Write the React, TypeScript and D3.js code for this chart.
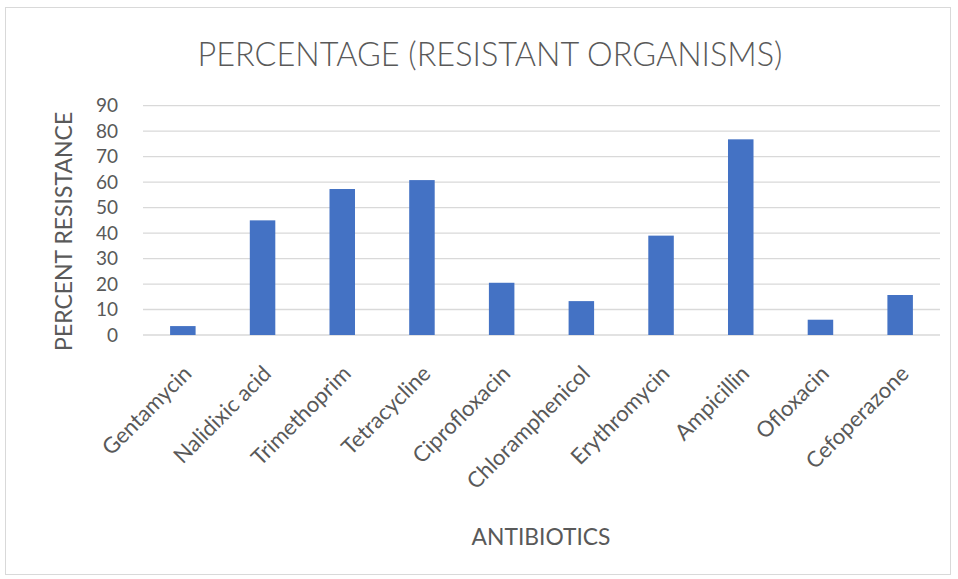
import React from "react";
import * as d3 from "d3";

const antibiotics = [
  "Gentamycin",
  "Nalidixic acid",
  "Trimethoprim",
  "Tetracycline",
  "Ciprofloxacin",
  "Chloramphenicol",
  "Erythromycin",
  "Ampicillin",
  "Ofloxacin",
  "Cefoperazone",
];
const resistance = [3.5, 45, 57.3, 60.8, 20.5, 13.3, 39, 76.8, 6, 15.7];
const yTicks = [0, 10, 20, 30, 40, 50, 60, 70, 80, 90];

const W = 958;
const H = 579;
const plot = { left: 143, right: 940, top: 105.7, bottom: 335 };
const font = "Lato, 'Open Sans', sans-serif";
const textColor = "#595959";

export default function App() {
  const x = d3
    .scaleBand<string>()
    .domain(antibiotics)
    .range([plot.left, plot.right])
    .paddingInner(0.68)
    .paddingOuter(0.34);
  const y = d3.scaleLinear().domain([0, 90]).range([plot.bottom, plot.top]);

  return (
    <svg
      width={W}
      height={H}
      style={{ position: "absolute", left: 0, top: 0, background: "#fff" }}
    >
      <rect x={5.5} y={7.5} width={945} height={567} fill="#fff" stroke="#d9d9d9" />
      <text
        x={490}
        y={66}
        textAnchor="middle"
        fontFamily={font}
        fontWeight={300}
        fontSize={32.4}
        fill={textColor}
      >
        PERCENTAGE (RESISTANT ORGANISMS)
      </text>

      {yTicks.map((t) => (
        <g key={t}>
          <line
            x1={plot.left}
            x2={plot.right}
            y1={y(t)}
            y2={y(t)}
            stroke="#d9d9d9"
            strokeWidth={1.3}
          />
          <text
            x={118}
            y={y(t)}
            dy="0.35em"
            textAnchor="end"
            fontFamily={font}
            fontSize={19}
            fill={textColor}
          >
            {t}
          </text>
        </g>
      ))}

      {antibiotics.map((name, i) => (
        <rect
          key={name}
          x={x(name)}
          y={y(resistance[i])}
          width={x.bandwidth()}
          height={y(0) - y(resistance[i])}
          fill="#4472c4"
        />
      ))}

      {antibiotics.map((name) => {
        const cx = (x(name) as number) + x.bandwidth() / 2 + 10;
        const cy = 375;
        return (
          <text
            key={name}
            transform={`translate(${cx},${cy}) rotate(-45)`}
            textAnchor="end"
            fontFamily={font}
            fontSize={22}
            fill={textColor}
          >
            {name}
          </text>
        );
      })}

      <text
        transform={`translate(72,${(plot.top + plot.bottom) / 2 + 11}) rotate(-90)`}
        textAnchor="middle"
        fontFamily={font}
        fontSize={23}
        fill={textColor}
      >
        PERCENT RESISTANCE
      </text>
      <text
        x={541}
        y={545}
        textAnchor="middle"
        fontFamily={font}
        fontSize={22.8}
        fill={textColor}
      >
        ANTIBIOTICS
      </text>
    </svg>
  );
}
